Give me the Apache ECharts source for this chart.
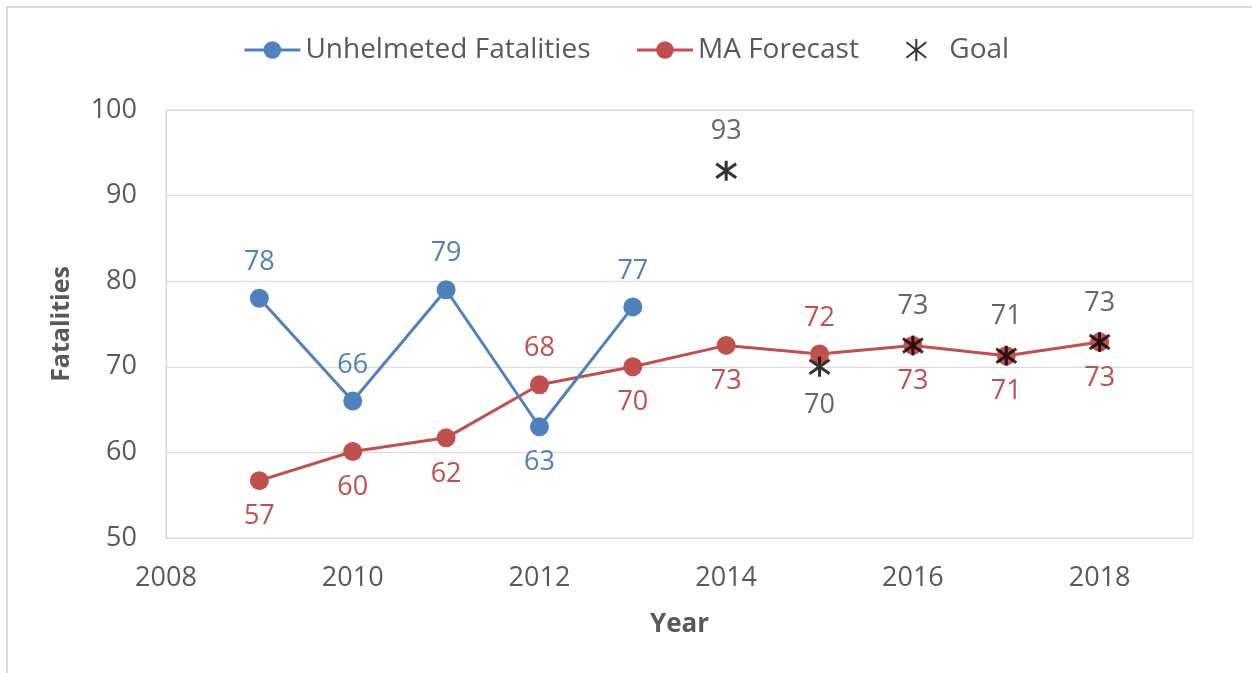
<!DOCTYPE html>
<html>
<head>
<meta charset="utf-8">
<script src="https://cdn.jsdelivr.net/npm/echarts@6/dist/echarts.min.js"></script>
<style>
  html, body { margin: 0; padding: 0; background: #fff; }
  #chart { width: 1252px; height: 673px; }
</style>
</head>
<body>
<div id="chart"></div>
<script>
// 数据
var years = [2009, 2010, 2011, 2012, 2013, 2014, 2015, 2016, 2017, 2018];
var unhelmeted = [78, 66, 79, 63, 77];
var maForecast = [56.7, 60.1, 61.7, 67.9, 70.0, 72.5, 71.5, 72.5, 71.3, 72.9];
var goalYears = [2014, 2015, 2016, 2017, 2018];
var goal = [92.9, 70.0, 72.5, 71.3, 72.9];
var yTicks = [50, 60, 70, 80, 90, 100];

// 标签位置例外
var blueLabelsBelow = [2012];
var maLabelsAbove = [2012, 2015];
var goalLabelsBelow = [2015];

var font = 'Open Sans';
var blue = '#4f81bd', red = '#c0504d';
var starPath = 'path://M10,0L10,20M1,3L19,17M1,17L19,3';

function fmt(p) { return Math.round(p.value[1]); }

var blueData = unhelmeted.map(function (v, i) {
    return {
        value: [years[i], v],
        label: { position: blueLabelsBelow.indexOf(years[i]) >= 0 ? 'bottom' : 'top' }
    };
});
var redData = maForecast.map(function (v, i) {
    return {
        value: [years[i], v],
        label: { position: maLabelsAbove.indexOf(years[i]) >= 0 ? 'top' : 'bottom' }
    };
});
var goalData = goal.map(function (v, i) {
    return {
        value: [goalYears[i], v],
        label: { position: goalLabelsBelow.indexOf(goalYears[i]) >= 0 ? 'bottom' : 'top' }
    };
});

var myChart = echarts.init(document.getElementById('chart'));
myChart.setOption({
    animation: false,
    textStyle: { fontFamily: font },
    graphic: [{
        type: 'rect',
        shape: { x: 7, y: 7, width: 1300, height: 700 },
        style: { fill: 'none', stroke: '#d9d9d9', lineWidth: 2 },
        z: -10
    }],
    legend: {
        top: 31,
        left: 'center',
        itemWidth: 56,
        itemHeight: 22,
        itemGap: 45,
        lineStyle: { width: 3 },
        textStyle: { fontSize: 28, color: '#595959', fontFamily: font },
        data: ['Unhelmeted Fatalities', 'MA Forecast', 'Goal']
    },
    grid: {
        left: 166, right: 59, top: 110, bottom: 135,
        show: true, borderColor: '#d9d9d9', borderWidth: 1
    },
    xAxis: {
        type: 'value',
        min: 2008, max: 2019, interval: 2,
        name: 'Year',
        nameLocation: 'middle',
        nameGap: 74,
        nameTextStyle: { fontSize: 26, fontWeight: 'bold', color: '#595959' },
        axisLine: { show: true, lineStyle: { color: '#d9d9d9' } },
        axisTick: { show: false },
        splitLine: { show: false },
        axisLabel: {
            fontSize: 27, color: '#595959', margin: 27, showMaxLabel: false,
            formatter: function (v) { return String(v); }
        }
    },
    yAxis: {
        type: 'value',
        min: yTicks[0], max: yTicks[yTicks.length - 1], interval: 10,
        name: 'Fatalities',
        nameLocation: 'middle',
        nameGap: 92,
        nameTextStyle: { fontSize: 25, fontWeight: 'bold', color: '#595959' },
        axisLine: { show: true, lineStyle: { color: '#d9d9d9' } },
        axisTick: { show: false },
        splitLine: { lineStyle: { color: '#d9d9d9' } },
        axisLabel: { fontSize: 27, color: '#595959', margin: 29 }
    },
    series: [{
        name: 'Unhelmeted Fatalities',
        type: 'line',
        data: blueData,
        symbol: 'circle',
        symbolSize: 19,
        lineStyle: { color: blue, width: 3 },
        itemStyle: { color: blue },
        label: { show: true, position: 'top', distance: 13, fontSize: 27, color: blue, formatter: fmt },
        z: 3
    }, {
        name: 'MA Forecast',
        type: 'line',
        data: redData,
        symbol: 'circle',
        symbolSize: 19,
        lineStyle: { color: red, width: 3 },
        itemStyle: { color: red },
        label: { show: true, position: 'bottom', distance: 13, fontSize: 27, color: red, formatter: fmt },
        z: 2
    }, {
        name: 'Goal',
        type: 'scatter',
        data: goalData,
        symbol: starPath,
        symbolSize: 20,
        itemStyle: { color: 'none', borderColor: '#000', borderWidth: 3 },
        label: { show: true, position: 'top', distance: 13, fontSize: 27, color: '#404040', formatter: fmt },
        z: 4
    }]
});
</script>
</body>
</html>
